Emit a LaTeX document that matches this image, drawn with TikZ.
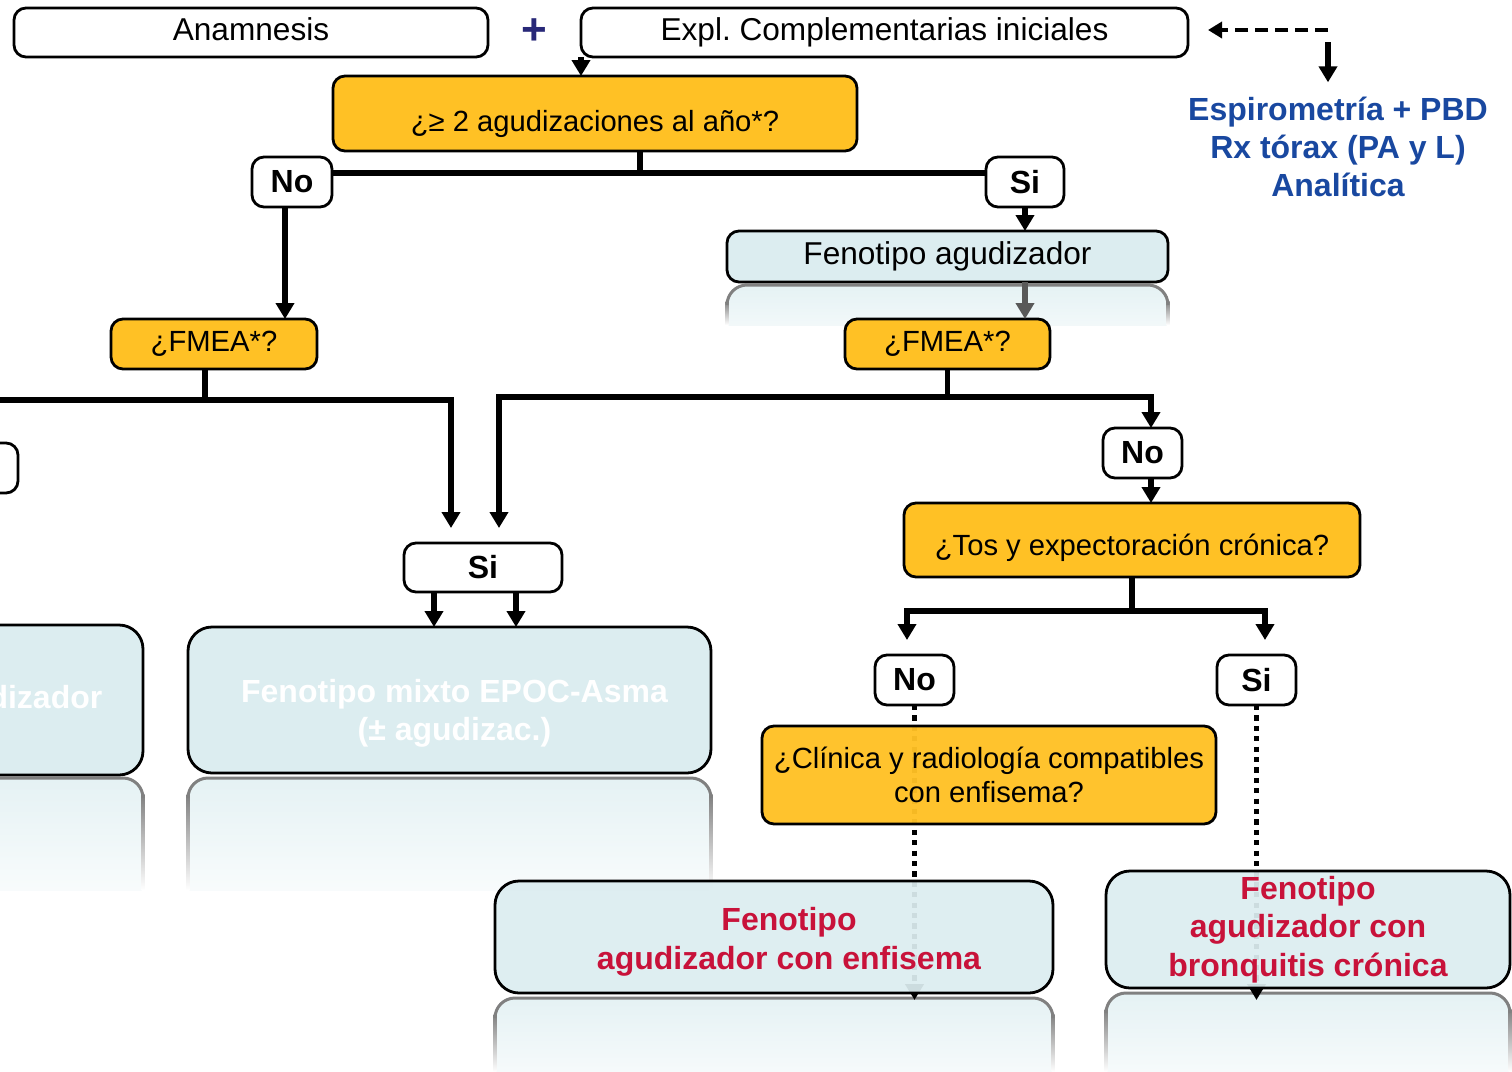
\documentclass[tikz,border=0pt]{standalone}
\usepackage{fontspec}
\setmainfont{Liberation Sans}
\usetikzlibrary{arrows.meta}
\definecolor{ybg}{RGB}{255,193,37}
\definecolor{lbg}{RGB}{220,237,240}
\definecolor{navy}{RGB}{40,40,120}
\definecolor{bluet}{RGB}{25,72,160}
\definecolor{redt}{RGB}{200,18,58}
\pgfdeclarelayer{bg}
\pgfsetlayers{bg,main}
\frenchspacing
\newcommand\reflbox[4]{%
  \begin{scope}
    \clip (#1-6,#2-6) rectangle (#3+6,#4);
    \shade[top color=lbg!75, bottom color=white, rounded corners=10pt] (#1,#2) rectangle (#3,#4+40);
    \shade[top color=gray, bottom color=white] (#1-1.5,#2+16) rectangle (#1+1.5,#4);
    \shade[top color=gray, bottom color=white] (#3-1.5,#2+16) rectangle (#3+1.5,#4);
    \draw[gray, line width=1.5pt, rounded corners=10pt] (#1,#2+20) -- (#1,#2) -- (#3,#2) -- (#3,#2+20);
  \end{scope}}
\tikzset{
  box/.style={draw=black, line width=1.4pt, rounded corners=6pt, inner sep=0pt, outer sep=0pt, align=center},
  wbox/.style={box, fill=white},
  ybox/.style={box, fill=ybg},
  lbox/.style={box, fill=lbg},
  bigr/.style={rounded corners=12pt},
  nt/.style={font=\fontsize{15.8}{19}\selectfont, text depth=3.3pt},
  st/.style={font=\fontsize{14.6}{17}\selectfont},
  bt/.style={font=\fontsize{16}{19.2}\selectfont\bfseries},
  ln/.style={line width=2.6pt},
  arr/.style={ln, -{Triangle[length=8pt,width=9pt]}},
  garr/.style={arr, draw=black!65},
  dotarr/.style={line width=2.6pt, dash pattern=on 2.6pt off 2.6pt, -{Triangle[length=8pt,width=9pt]}},
  dasharr/.style={line width=2.4pt, dash pattern=on 6.5pt off 3.5pt, -{Triangle[length=7pt,width=8pt]}},
}
\begin{document}
\begin{tikzpicture}[x=0.5pt,y=-0.5pt]
\useasboundingbox (0,0) rectangle (1512,1072);
\clip (0,0) rectangle (1512,1072);

% top row
\node[wbox, nt, minimum width=237pt, minimum height=24.5pt] (anam) at (251,32.5) {Anamnesis};
\node[font=\fontsize{22}{22}\selectfont\bfseries, text=navy, inner sep=0pt] (plus) at (534,32) {+};
\node[wbox, nt, minimum width=303.5pt, minimum height=24.5pt] (expl) at (884.5,32.5) {Expl. Complementarias iniciales};
\node[bt, text=bluet, inner sep=0pt, align=center] (espiro) at (1338,147) {Espirometría + PBD\\Rx tórax (PA y L)\\Analítica};

% first question
\node[ybox, st, minimum width=262pt, minimum height=37.5pt] (q1) at (595,113.5) {\rule{0pt}{21pt}¿≥ 2 agudizaciones al año*?};
\node[wbox, bt, minimum width=40pt, minimum height=25pt] (no1) at (292,182) {No};
\node[wbox, bt, minimum width=39pt, minimum height=25pt] (si1) at (1025,182) {Si};
\node[lbox, nt, minimum width=220.5pt, minimum height=25.5pt] (fenA) at (947.5,256.5) {Fenotipo agudizador};
\node[ybox, st, minimum width=103pt, minimum height=25pt] (fmeaL) at (214,344) {¿FMEA*?};
\node[ybox, st, minimum width=102.5pt, minimum height=25pt] (fmeaR) at (947.5,344) {¿FMEA*?};
\node[wbox, minimum width=39pt, minimum height=25pt] (cut1) at (-21,468) {};
\node[wbox, bt, minimum width=79pt, minimum height=24.5pt] (siM) at (483,567.5) {Si};
\node[wbox, bt, minimum width=39.5pt, minimum height=25pt] (noR) at (1142.5,453) {No};
\node[ybox, st, minimum width=228pt, minimum height=37pt] (tos) at (1132,540) {\rule{0pt}{19pt}¿Tos y expectoración crónica?};
\node[wbox, bt, minimum width=39.5pt, minimum height=25pt] (no2) at (914.5,680) {No};
\node[wbox, bt, minimum width=39.5pt, minimum height=25pt] (si2) at (1256.5,680) {Si};
\node[ybox, st, minimum width=227pt, minimum height=49pt, fill opacity=0.96, text opacity=1] (cli) at (989,775) {¿Clínica y radiología compatibles\\con enfisema?};

% phenotype boxes
\node[lbox, bigr, bt, text=white, minimum width=261.5pt, minimum height=73pt] (mix) at (449.5,700) {\rule{0pt}{25pt}\hspace*{5pt}Fenotipo mixto EPOC-Asma\\\hspace*{5pt}(± agudizac.)};
\node[lbox, bigr, bt, text=white, minimum width=222pt, minimum height=75pt] (noag) at (-79,700) {Fenotipo no agudizador};
\node[lbox, bigr, bt, text=redt, minimum width=279pt, minimum height=56pt, fill opacity=0.93, text opacity=1] (enf) at (774,937) {\rule{0pt}{16.5pt}\hspace*{15pt}Fenotipo\\\hspace*{15pt}agudizador con enfisema};
\node[lbox, bigr, bt, text=redt, minimum width=202pt, minimum height=58.5pt, fill opacity=0.93, text opacity=1] (bro) at (1308,929.5) {Fenotipo\\agudizador con\\bronquitis crónica};

% junction coordinates
\coordinate (dcorner) at (1328,30);
\coordinate (dend) at ([xshift=10pt]expl.east);
\coordinate (dtop) at (1328,42);
\coordinate (q1s) at ([xshift=22.5pt]q1.south);
\coordinate (h1) at ([yshift=4.5pt]no1.east);
\coordinate (h2) at ([yshift=4.5pt]si1.west);
\coordinate (a1) at ([xshift=-3.5pt]no1.south);
\coordinate (fl) at ([xshift=-4.5pt]fmeaL.south);
\coordinate (jL) at (205,400);
\coordinate (jLr) at (451,400);
\coordinate (jLl) at (cut1.north |- jL);
\coordinate (jR) at (947.5,397);
\coordinate (jRl) at (499,397);
\coordinate (jRr) at (1151,397);
\coordinate (m1) at (434,0);
\coordinate (m2) at (516,0);
\coordinate (jT) at (1132,611);
\coordinate (jTl) at (907,611);
\coordinate (jTr) at (1265,611);

% background, reflections and hidden dotted connectors
\begin{pgfonlayer}{bg}
  \fill[white] (0,0) rectangle (1512,1072);
  \reflbox{727}{285}{1168}{325}
  \reflbox{188}{778}{711}{890}
  \reflbox{-301}{778}{143}{890}
  \reflbox{495}{998}{1053}{1072}
  \reflbox{1106}{993}{1510}{1072}
  \draw[dotarr, shorten >=-3.5pt] (no2.south) -- (no2.south |- enf.south);
  \draw[dotarr, shorten >=-6pt] (si2.south) -- (si2.south |- bro.south);
\end{pgfonlayer}

% connectors
\draw[arr] (expl.south west) -- (expl.south west |- q1.north);
\draw[dasharr] (dcorner) -- (dcorner -| dend);
\draw[arr, shorten >=7pt] (dtop) -- (dtop |- espiro.north);
\draw[ln] (q1s) -- (q1s |- h1);
\draw[ln] (h1) -- (h2);
\draw[arr] (a1) -- (a1 |- fmeaL.north);
\draw[arr] (si1.south) -- (si1.south |- fenA.north);
\draw[garr] (si1.south |- fenA.south) -- (si1.south |- fmeaR.north);
\draw[ln] (fl) -- (fl |- jL);
\draw[arr] (jL) -- (jLl) -- (jLl |- cut1.north);
\draw[arr, shorten >=7.5pt] (jL) -- (jLr) -- (jLr |- siM.north);
\draw[ln] (fmeaR.south) -- (jR);
\draw[arr] (jR) -- (jRr) -- (jRr |- noR.north);
\draw[arr, shorten >=7.5pt] (jR) -- (jRl) -- (jRl |- siM.north);
\draw[arr] (noR.south -| jRr) -- (jRr |- tos.north);
\draw[arr] (siM.south -| m1) -- (mix.north -| m1);
\draw[arr] (siM.south -| m2) -- (mix.north -| m2);
\draw[ln] (tos.south) -- (jT);
\draw[arr, shorten >=7.5pt] (jT) -- (jTl) -- (jTl |- no2.north);
\draw[arr, shorten >=7.5pt] (jT) -- (jTr) -- (jTr |- si2.north);
\end{tikzpicture}
\end{document}
